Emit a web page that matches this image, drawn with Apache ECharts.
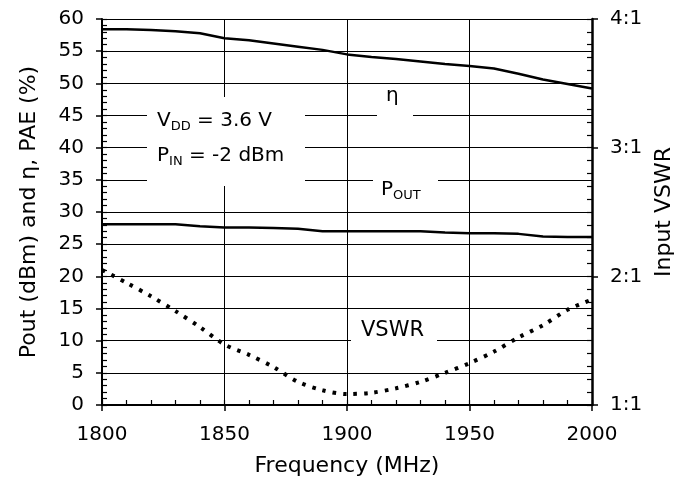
<!DOCTYPE html>
<html><head><meta charset="utf-8">
<script src="https://cdn.jsdelivr.net/npm/echarts@6/dist/echarts.min.js"></script>
<style>html,body{margin:0;padding:0;background:#fff}#c{width:692px;height:493px}</style>
</head><body><div id="c"></div>
<script>
// ---- data ----
const freqs      = [1800,1810,1820,1830,1840,1850,1860,1870,1880,1890,1900,1910,1920,1930,1940,1950,1960,1970,1980,1990,2000];
const etaValues  = [58.4,58.4,58.3,58.1,57.8,57.0,56.7,56.2,55.7,55.2,54.5,54.1,53.8,53.4,53.0,52.7,52.3,51.5,50.6,49.9,49.2];
const poutValues = [28.1,28.1,28.1,28.1,27.8,27.6,27.6,27.5,27.4,27.0,27.0,27.0,27.0,27.0,26.8,26.7,26.7,26.6,26.2,26.1,26.1];
const vswrValues = [2.05,1.95,1.845,1.73,1.605,1.47,1.39,1.295,1.18,1.115,1.085,1.095,1.13,1.18,1.25,1.325,1.415,1.525,1.62,1.74,1.82];
const xTickValues = [1800,1850,1900,1950,2000];
const leftTickValues = [0,5,10,15,20,25,30,35,40,45,50,55,60];
const rightTickLabels = ['1:1','2:1','3:1','4:1'];

const FONT = "'DejaVu Sans', 'Liberation Sans', Arial, sans-serif";
const pair = (xs, ys) => xs.map((x, i) => [x, ys[i]]);

const chart = echarts.init(document.getElementById('c'), null, {renderer: 'canvas'});

const xMin = xTickValues[0], xMax = xTickValues[xTickValues.length - 1];
const xStep = xTickValues[1] - xTickValues[0];
const yMin = leftTickValues[0], yMax = leftTickValues[leftTickValues.length - 1];
const yStep = leftTickValues[1] - leftTickValues[0];

const sub = {
  n: {fontSize: 20, lineHeight: 24, fontFamily: FONT, color: '#000'},
  s: {fontSize: 13, lineHeight: 14, verticalAlign: 'bottom', fontFamily: FONT, color: '#000'}
};

const option = {
  animation: false,
  backgroundColor: '#fff',
  textStyle: {fontFamily: FONT, color: '#000'},
  grid: {left: 102, right: 100, top: 19, bottom: 88, containLabel: false},
  xAxis: [
    {
      type: 'value', min: xMin, max: xMax, interval: xStep, position: 'bottom',
      name: 'Frequency (MHz)', nameLocation: 'middle', nameGap: 50,
      nameTextStyle: {fontSize: 22, color: '#000', fontFamily: FONT},
      axisLine: {show: true, lineStyle: {color: '#000', width: 2}},
      axisTick: {show: true, inside: true, length: 5, lineStyle: {color: '#000', width: 1.2}},
      minorTick: {show: true, splitNumber: 5, length: 5, lineStyle: {color: '#000', width: 1.2}},
      axisLabel: {fontSize: 20, color: '#000', margin: 20, fontFamily: FONT, formatter: v => String(v)},
      splitLine: {show: true, lineStyle: {color: '#000', width: 1}}
    },
    {
      type: 'value', min: xMin, max: xMax, interval: xStep, position: 'bottom',
      axisLine: {show: false},
      axisTick: {show: true, inside: false, length: 6, lineStyle: {color: '#000', width: 1.5}},
      axisLabel: {show: false}, splitLine: {show: false}
    }
  ],
  yAxis: [
    {
      type: 'value', min: yMin, max: yMax, interval: yStep, position: 'left',
      name: 'Pout (dBm) and η, PAE (%)', nameLocation: 'middle', nameGap: 62, nameRotate: 90,
      nameTextStyle: {fontSize: 22, color: '#000', fontFamily: FONT},
      axisLine: {show: true, lineStyle: {color: '#000', width: 2}},
      axisTick: {show: true, inside: true, length: 5, lineStyle: {color: '#000', width: 1.2}},
      minorTick: {show: true, splitNumber: 5, length: 5, lineStyle: {color: '#000', width: 1.2}},
      axisLabel: {fontSize: 20, color: '#000', margin: 18, fontFamily: FONT},
      splitLine: {show: true, lineStyle: {color: '#000', width: 1}}
    },
    {
      type: 'value', min: 1, max: 4, interval: 1, position: 'right',
      name: 'Input VSWR', nameLocation: 'middle', nameGap: 60, nameRotate: 90,
      nameTextStyle: {fontSize: 22, color: '#000', fontFamily: FONT},
      axisLine: {show: true, lineStyle: {color: '#000', width: 2.5}},
      axisTick: {show: true, inside: true, length: 5, lineStyle: {color: '#000', width: 1.2}},
      minorTick: {show: true, splitNumber: 10, length: 5, lineStyle: {color: '#000', width: 1.2}},
      axisLabel: {fontSize: 20, color: '#000', margin: 18, fontFamily: FONT,
                  formatter: v => rightTickLabels[Math.round(v) - 1] || ''},
      splitLine: {show: false}
    },
    {
      type: 'value', min: yMin, max: yMax, interval: yStep, position: 'left',
      axisLine: {show: false},
      axisTick: {show: true, inside: false, length: 6, lineStyle: {color: '#000', width: 1.5}},
      axisLabel: {show: false}, splitLine: {show: false}
    },
    {
      type: 'value', min: 1, max: 4, interval: 1, position: 'right',
      axisLine: {show: false},
      axisTick: {show: true, inside: false, length: 6, lineStyle: {color: '#000', width: 1.5}},
      axisLabel: {show: false}, splitLine: {show: false}
    }
  ],
  series: [
    {
      name: 'η', type: 'line', xAxisIndex: 0, yAxisIndex: 0, data: pair(freqs, etaValues),
      showSymbol: false, symbol: 'none', z: 5,
      lineStyle: {color: '#000', width: 2.5}
    },
    {
      name: 'POUT', type: 'line', xAxisIndex: 0, yAxisIndex: 0, data: pair(freqs, poutValues),
      showSymbol: false, symbol: 'none', z: 5,
      lineStyle: {color: '#000', width: 2.5}
    },
    {
      name: 'VSWR', type: 'line', xAxisIndex: 0, yAxisIndex: 1, data: pair(freqs, vswrValues),
      showSymbol: false, symbol: 'none', smooth: 0.3, z: 5,
      lineStyle: {color: '#000', width: 4, type: [3.5, 7], cap: 'butt'}
    }
  ],
  graphic: [
    {type: 'rect', z: 3, shape: {x: 147, y: 97, width: 158, height: 89}, style: {fill: '#fff'}},
    {type: 'text', z: 4, left: 157, top: 111, style: {text: '{n|V}{s|DD}{n| = 3.6 V}', rich: sub}},
    {type: 'text', z: 4, left: 157, top: 146, style: {text: '{n|P}{s|IN}{n| = -2 dBm}', rich: sub}},
    {type: 'rect', z: 3, shape: {x: 377, y: 84, width: 36, height: 32}, style: {fill: '#fff'}},
    {type: 'text', z: 4, left: 386, top: 86, style: {text: 'η', fontSize: 20, fontFamily: FONT, fill: '#000'}},
    {type: 'rect', z: 3, shape: {x: 373, y: 172, width: 65, height: 40}, style: {fill: '#fff'}},
    {type: 'text', z: 4, left: 381, top: 180, style: {text: '{n|P}{s|OUT}', rich: sub}},
    {type: 'rect', z: 3, shape: {x: 351, y: 316, width: 86, height: 30}, style: {fill: '#fff'}},
    {type: 'text', z: 4, left: 361, top: 320, style: {text: 'VSWR', fontSize: 21, fontFamily: FONT, fill: '#000'}}
  ]
};
chart.setOption(option);
</script>
</body></html>
